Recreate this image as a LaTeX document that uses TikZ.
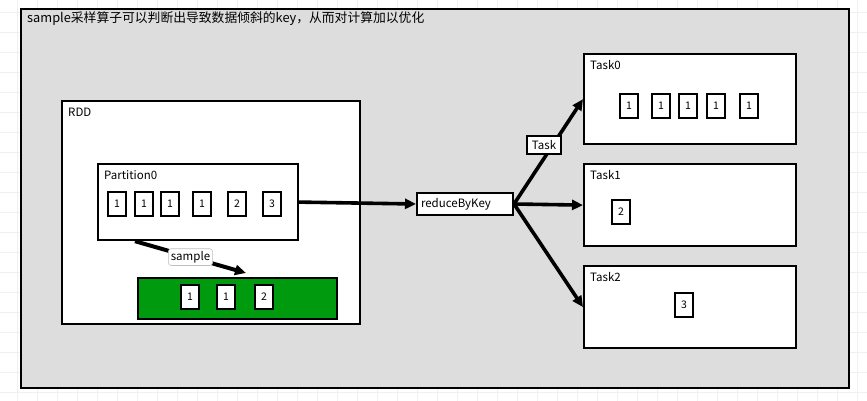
\documentclass[tikz,border=0pt]{standalone}
\usepackage{fontspec}
\setmainfont{Noto Sans CJK SC}
\usetikzlibrary{arrows.meta,positioning}
\definecolor{bg}{HTML}{DDDDDD}
\definecolor{grn}{HTML}{009A0F}
\definecolor{gridc}{HTML}{F0F0F0}
\tikzset{
  frame/.style={draw,line width=2.2pt,fill=white,anchor=north west,inner sep=0pt},
  cell/.style={draw,line width=2pt,fill=white,minimum width=18pt,minimum height=24pt,inner sep=0pt,font=\fontsize{10.5}{10.5}\selectfont},
  lbl/.style={anchor=west,inner sep=0pt,font=\fontsize{11.5}{13}\selectfont},
  tag/.style={draw,line width=2pt,fill=white,inner xsep=5pt,inner ysep=4pt,font=\fontsize{11.5}{13}\selectfont},
  ar/.style={-{Triangle[length=11pt,width=10pt]},line width=3.6pt},
}
\begin{document}
\begin{tikzpicture}[x=1pt,y=-1pt]
\useasboundingbox (0,0) rectangle (867,401);
% faint grid behind everything
\foreach \gx in {17,37,...,857} \draw[gridc] (\gx,0) -- (\gx,401);
\foreach \gy in {12,32,...,392} \draw[gridc] (0,\gy) -- (867,\gy);
\node[frame,fill=bg,minimum width=828pt,minimum height=379pt] (outer) at (20,8) {};
\node[lbl,font=\fontsize{12.8}{15}\selectfont] (ttl) at ([shift={(7pt,-11pt)}]outer.north west) {sample采样算子可以判断出导致数据倾斜的key，从而对计算加以优化};
% RDD side
\node[frame,minimum width=298pt,minimum height=223pt] (rdd) at (61,100) {};
\node[lbl] at ([shift={(7pt,-12pt)}]rdd.north west) {RDD};
\node[frame,minimum width=200pt,minimum height=76pt] (part) at (97,163) {};
\node[lbl] at ([shift={(7pt,-12pt)}]part.north west) {Partition0};
\foreach \cx/\cv [count=\i] in {117/1,144/1,170/1,202/1,237/2,272/3}
  \node[cell] (p\i) at (\cx,204) {\cv};
\node[frame,fill=grn,minimum width=199pt,minimum height=41pt] (smpbox) at (137,277) {};
\foreach \cx/\cv [count=\i] in {190/1,226/1,264/2}
  \node[cell] (s\i) at (\cx,297) {\cv};
\coordinate (smpend) at (246,273);
\draw[ar,line width=4pt] ([xshift=38pt]part.south west) -- (smpend)
  node[midway,draw=gray!50,line width=0.6pt,rounded corners=3pt,fill=white,inner sep=2.5pt,font=\fontsize{11.5}{13}\selectfont] (smplbl) {sample};
% reduce
\node[tag,minimum width=96pt,minimum height=22pt,inner sep=2pt,align=left,text width=88pt] (rbk) at (465,204) {reduceByKey};
\draw[ar] (part.east) -- (rbk.west);
% tasks
\node[frame,minimum width=212pt,minimum height=90pt] (t0) at (583,53) {};
\node[lbl] at ([shift={(7pt,-12pt)}]t0.north west) {Task0};
\foreach \cx [count=\i] in {629,661,688,716,749}
  \node[cell] (a\i) at (\cx,106) {1};
\node[frame,minimum width=212pt,minimum height=82pt] (t1) at (583,163) {};
\node[lbl] at ([shift={(7pt,-12pt)}]t1.north west) {Task1};
\node[cell] (b1) at (621,212) {2};
\node[frame,minimum width=212pt,minimum height=82pt] (t2) at (583,265) {};
\node[lbl] at ([shift={(7pt,-12pt)}]t2.north west) {Task2};
\node[cell] (c1) at (684,305) {3};
\draw[ar] (rbk.east) -- (t0.west);
\draw[ar] (rbk.east) -- (t1.west);
\draw[ar] (rbk.east) -- (t2.west);
\node[tag] (tsk) at (544,145) {Task};
\end{tikzpicture}
\end{document}
